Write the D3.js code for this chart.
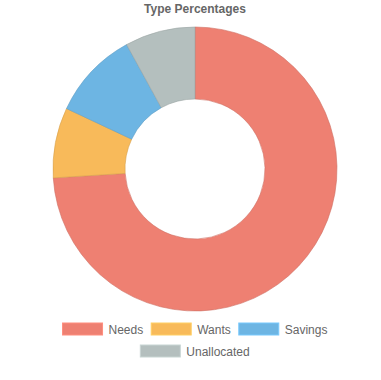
<!DOCTYPE html>
<html><head><meta charset="utf-8">
<script src="https://cdn.jsdelivr.net/npm/d3@7"></script>
<style>html,body{margin:0;padding:0;background:#fff;}svg{display:block;}</style>
</head><body>
<svg id="c" width="381" height="380"></svg>
<script>
const categories = ["Needs", "Wants", "Savings", "Unallocated"];
const values = [74, 8, 10, 8];
const colors = ["#EE8072", "#F8BA5A", "#6DB5E3", "#B4BFBE"];
const title = "Type Percentages";

const svg = d3.select("#c");
const font = "'Liberation Sans', Arial, Helvetica, sans-serif";
const cx = 195, cy = 169, outerR = 142, innerR = 70;

svg.append("text").attr("x", 195).attr("y", 13).attr("text-anchor", "middle")
  .attr("font-family", font).attr("font-size", 12).attr("font-weight", "bold")
  .attr("fill", "#666").text(title);

const data = categories.map((c, i) => ({name: c, value: values[i], color: colors[i]}));
const pie = d3.pie().sort(null).value(d => d.value);
const arc = d3.arc().innerRadius(innerR).outerRadius(outerR);
const g = svg.append("g").attr("transform", `translate(${cx},${cy})`);
g.selectAll("path").data(pie(data)).join("path")
  .attr("d", arc).attr("fill", d => d.data.color)
  .attr("stroke", d => d3.color(d.data.color).darker(0.4))
  .attr("stroke-width", 0.6);

// legend
const color = d3.scaleOrdinal().domain(categories).range(colors);
const rows = [[0, 1, 2], [3]];
const boxW = 40, boxH = 12, gap = 6, itemGap = 8;
const ctx = document.createElement("canvas").getContext("2d");
ctx.font = "12px " + font;
rows.forEach((row, ri) => {
  const widths = row.map(i => boxW + gap + ctx.measureText(categories[i]).width);
  const total = d3.sum(widths) + itemGap * (row.length - 1);
  let x = 195 - total / 2;
  const y = 323 + ri * 22;
  row.forEach((i, k) => {
    svg.append("rect").attr("x", x).attr("y", y).attr("width", boxW).attr("height", boxH)
      .attr("fill", color(categories[i]))
      .attr("stroke", d3.color(color(categories[i])).brighter(0.3)).attr("stroke-width", 1);
    svg.append("text").attr("x", x + boxW + gap).attr("y", y + 10.5)
      .attr("font-family", font).attr("font-size", 12).attr("fill", "#666")
      .text(categories[i]);
    x += widths[k] + itemGap;
  });
});
</script>
</body></html>
